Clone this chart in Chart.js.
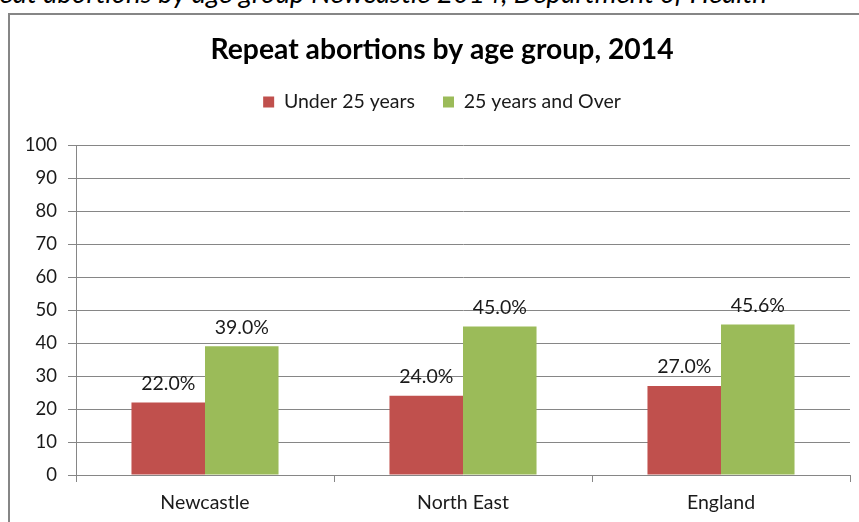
<!DOCTYPE html>
<html>
<head>
<meta charset="utf-8">
<script src="https://cdn.jsdelivr.net/npm/chart.js@4"></script>
<style>
  body { margin: 0; background: #fff; overflow: hidden; }
  #page { position: relative; width: 859px; height: 522px; overflow: hidden; }
  .caption {
    position: absolute; right: 92px; top: -21px; white-space: nowrap;
    font: italic 27.7px Lato, sans-serif; color: #000; line-height: 28px;
  }
  .frame {
    position: absolute; left: 8px; top: 13px; width: 900px; height: 600px;
    border-left: 2px solid #868686; border-top: 2px solid #868686;
  }
  #wrap { position: absolute; left: 0; top: 0; width: 859px; height: 522px; }
</style>
</head>
<body>
<div id="page">
  <div class="caption">Figure 1: Repeat abortions by age group Newcastle 2014, Department of Health</div>
  <div class="frame"></div>
  <div id="wrap"><canvas id="myChart"></canvas></div>
</div>
<script>
let categories = ['Newcastle', 'North East', 'England'];
let under25 = [22.0, 24.0, 27.0];
let over25 = [39.0, 45.0, 45.6];
let yTicks = [0, 10, 20, 30, 40, 50, 60, 70, 80, 90, 100];

let gridColor = '#868686';
let textColor = '#1a1a1a';
let fontFamily = 'Lato, sans-serif';

// prints each bar's value with one decimal above it
let valueLabels = {
  id: 'valueLabels',
  afterDatasetsDraw(chart) {
    let ctx = chart.ctx;
    ctx.save();
    ctx.font = '19.5px ' + fontFamily;
    ctx.fillStyle = textColor;
    ctx.textAlign = 'center';
    ctx.textBaseline = 'bottom';
    chart.data.datasets.forEach((ds, i) => {
      chart.getDatasetMeta(i).data.forEach((bar, j) => {
        ctx.fillText(ds.data[j].toFixed(1) + '%', bar.x, bar.y - 9);
      });
    });
    ctx.restore();
  }
};

// more room under the legend, and title + legend centred on the whole frame
let headerLayout = {
  id: 'headerLayout',
  afterInit(chart) {
    let legend = chart.legend;
    let fit = legend.fit;
    legend.fit = function () {
      fit.call(this);
      this.height = 80.75;
    };
  },
  afterLayout(chart) {
    chart.titleBlock.left += 34;
    chart.legend.left += 34;
  }
};

let ctx = document.getElementById('myChart').getContext('2d');
let myChart = new Chart(ctx, {
  type: 'bar',
  data: {
    labels: categories,
    datasets: [{
      label: 'Under 25 years',
      data: under25,
      backgroundColor: '#C0504D'
    }, {
      label: '25 years and Over',
      data: over25,
      backgroundColor: '#9BBB59'
    }]
  },
  options: {
    animation: false,
    responsive: true,
    maintainAspectRatio: false,
    layout: { padding: { left: 0, right: 9, top: 0, bottom: 0 } },
    datasets: { bar: { categoryPercentage: 0.57, barPercentage: 1 } },
    plugins: {
      tooltip: { enabled: false },
      title: {
        display: true,
        text: 'Repeat abortions by age group, 2014',
        color: '#000',
        font: { family: fontFamily, size: 28.3, weight: 'bold', lineHeight: 1 },
        padding: { top: 36, bottom: 0 }
      },
      legend: {
        display: true,
        labels: {
          color: textColor,
          font: { family: fontFamily, size: 19.5 },
          boxWidth: 11,
          boxHeight: 11,
          padding: 28
        }
      }
    },
    scales: {
      x: {
        grid: { drawOnChartArea: false, color: gridColor, tickLength: 7, offset: true },
        border: { color: gridColor },
        ticks: { color: textColor, font: { family: fontFamily, size: 19.5 }, padding: 9 },
        afterFit(scale) { scale.height = 47; }
      },
      y: {
        min: 0,
        max: 100,
        afterBuildTicks(scale) { scale.ticks = yTicks.map(v => ({ value: v })); },
        grid: { color: gridColor, tickLength: 8 },
        border: { color: gridColor },
        ticks: { color: textColor, font: { family: fontFamily, size: 18.5 }, padding: 11 },
        afterFit(scale) { scale.width = 76; }
      }
    }
  },
  plugins: [valueLabels, headerLayout]
});
</script>
</body>
</html>
